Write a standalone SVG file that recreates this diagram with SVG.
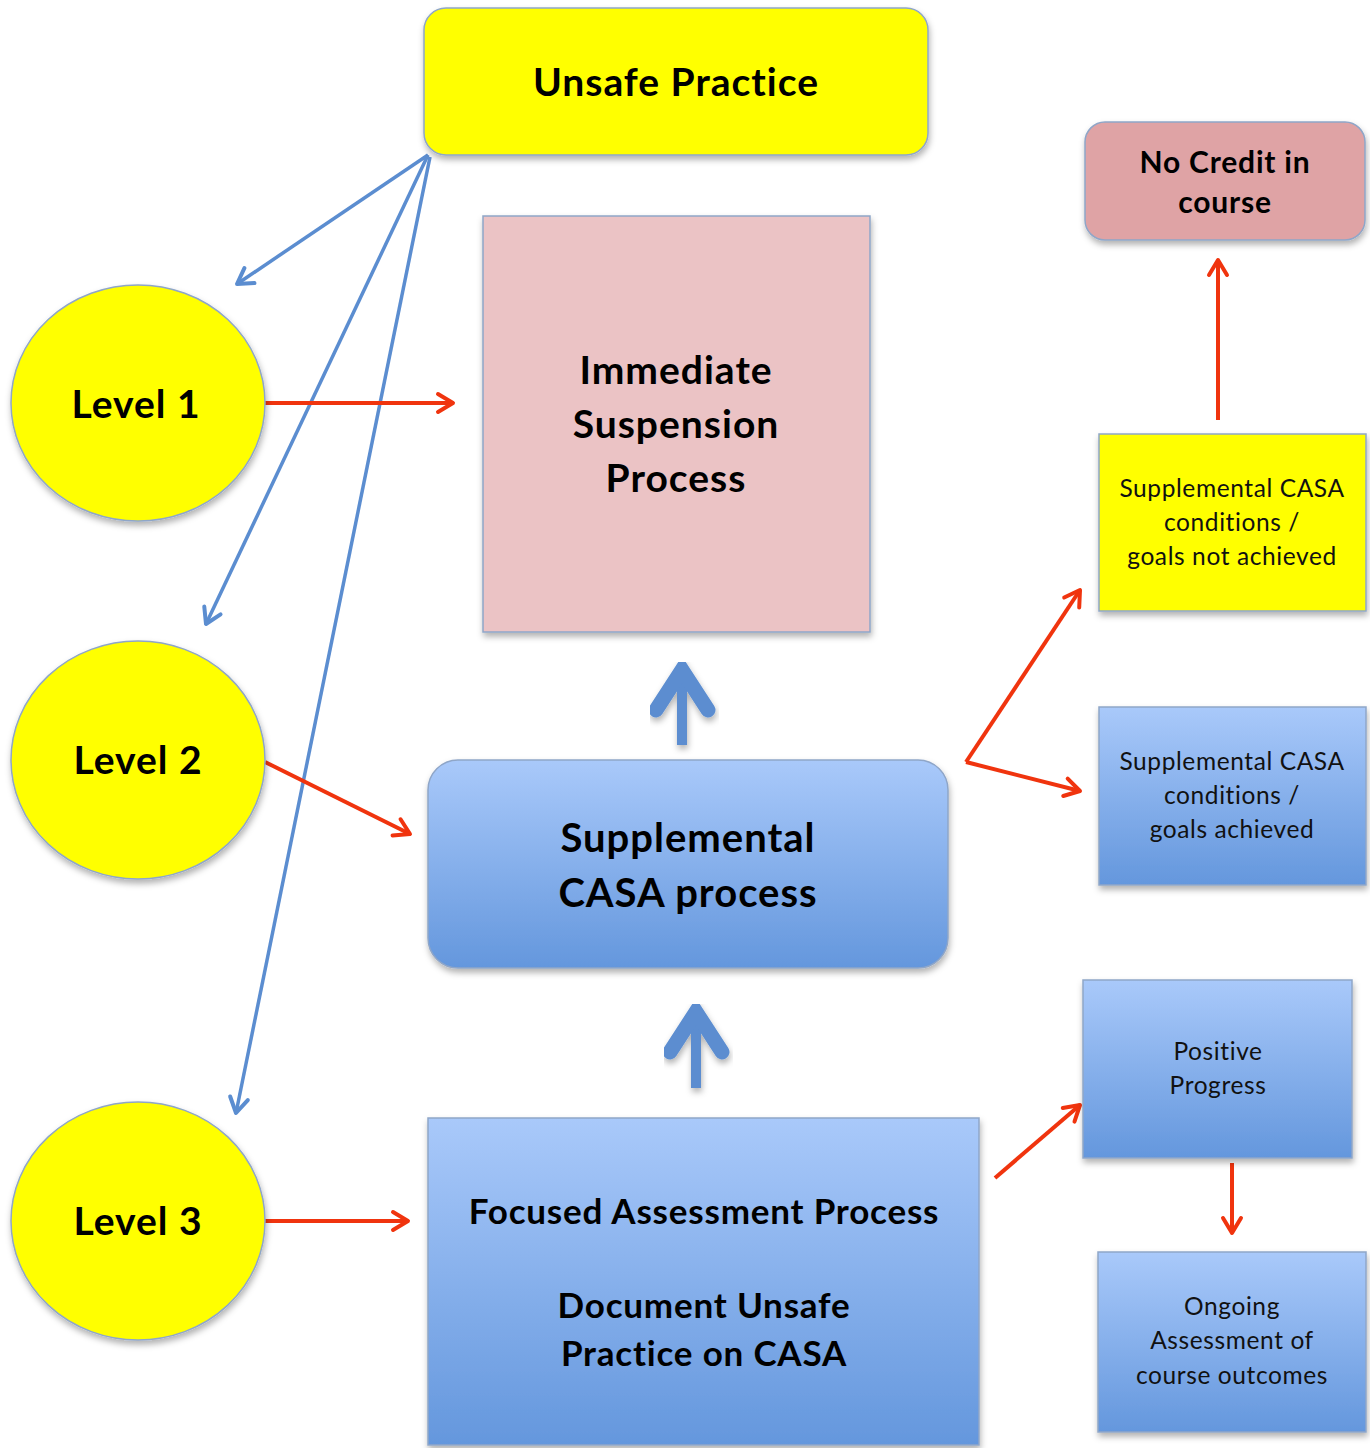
<svg xmlns="http://www.w3.org/2000/svg" width="1370" height="1448" viewBox="0 0 1370 1448">
<style>
.t{font-family:Lato,"Noto Sans","Liberation Sans",sans-serif;font-weight:bold;fill:#000;text-anchor:middle}
.s{font-family:Lato,"Noto Sans","Liberation Sans",sans-serif;font-size:24.5px;letter-spacing:0.6px;fill:#111;text-anchor:middle}
.box{stroke:#8FA6C8;stroke-width:1.5;filter:url(#sh)}
.red{stroke:#F0340E;stroke-width:4;fill:none;marker-end:url(#ra)}
.blue{stroke:#5B8DD0;stroke-width:3.5;fill:none;marker-end:url(#ba)}
.blk{stroke:#5B8DD0;fill:none}
.blkg{filter:url(#sh)}
</style>
<defs>
<linearGradient id="bg" x1="0" y1="0" x2="0" y2="1"><stop offset="0" stop-color="#A9C9FA"/><stop offset="1" stop-color="#6497DD"/></linearGradient>
<filter id="sh" x="-10%" y="-10%" width="130%" height="130%"><feDropShadow dx="1" dy="4" stdDeviation="3" flood-color="#000" flood-opacity="0.3"/></filter>
<marker id="ra" markerWidth="10" markerHeight="10" refX="7" refY="5" orient="auto" markerUnits="userSpaceOnUse" viewBox="0 0 10 10" style="overflow:visible"><path d="M-8,-4 L7,5 L-8,14" fill="none" stroke="#F0340E" stroke-width="4" stroke-linecap="round" stroke-linejoin="round"/></marker>
<marker id="ba" markerWidth="10" markerHeight="10" refX="7" refY="5" orient="auto" markerUnits="userSpaceOnUse" viewBox="0 0 10 10" style="overflow:visible"><path d="M-8,-4 L7,5 L-8,14" fill="none" stroke="#5B8DD0" stroke-width="4" stroke-linecap="round" stroke-linejoin="round"/></marker>
</defs>
<rect width="1370" height="1448" fill="#fff"/>

<g id="connectors">
<line class="blue" x1="428" y1="155" x2="237" y2="284"/>
<line class="blue" x1="428" y1="155" x2="206" y2="624"/>
<line class="blue" x1="430" y1="157" x2="236" y2="1113"/>
<line class="red" x1="265" y1="403" x2="453" y2="403"/>
<line class="red" x1="265" y1="762" x2="410" y2="834"/>
<line class="red" x1="265" y1="1221" x2="408" y2="1221"/>
<line class="red" x1="966" y1="762" x2="1080" y2="590"/>
<line class="red" x1="966" y1="762" x2="1080" y2="791"/>
<line class="red" x1="1218" y1="420" x2="1218" y2="260"/>
<line class="red" x1="995" y1="1178" x2="1080" y2="1105"/>
<line class="red" x1="1232" y1="1163" x2="1232" y2="1233"/>
<g id="block-arrow-1" class="blkg">
<line class="blk" x1="682" y1="745" x2="682" y2="672" stroke-width="10"/>
<polyline class="blk" points="656,710 682,670 708,710" stroke-width="15" stroke-linecap="round" stroke-linejoin="miter"/>
</g>
<g id="block-arrow-2" class="blkg">
<line class="blk" x1="696" y1="1088" x2="696" y2="1014" stroke-width="10"/>
<polyline class="blk" points="670,1052 696,1012 722,1052" stroke-width="15" stroke-linecap="round" stroke-linejoin="miter"/>
</g>
</g>

<g id="unsafe-practice">
<rect class="box" x="424" y="8" width="504" height="147" rx="22" fill="#FFFF00"/>
<text class="t" x="676" y="96" font-size="39" letter-spacing="1">Unsafe Practice</text>
</g>
<g id="level1">
<ellipse class="box" cx="138" cy="403" rx="127" ry="118" fill="#FFFF00"/>
<text class="t" x="136" y="418" font-size="39" letter-spacing="1">Level 1</text>
</g>
<g id="level2">
<ellipse class="box" cx="138" cy="760" rx="127" ry="119" fill="#FFFF00"/>
<text class="t" x="138" y="774" font-size="39" letter-spacing="1">Level 2</text>
</g>
<g id="level3">
<ellipse class="box" cx="138" cy="1221" rx="127" ry="119" fill="#FFFF00"/>
<text class="t" x="138" y="1235" font-size="39" letter-spacing="1">Level 3</text>
</g>
<g id="immediate-suspension">
<rect class="box" x="483" y="216" width="387" height="416" fill="#EBC3C5"/>
<text class="t" font-size="39" letter-spacing="1"><tspan x="676" y="384">Immediate</tspan><tspan x="676" y="438">Suspension</tspan><tspan x="676" y="492">Process</tspan></text>
</g>
<g id="supplemental-casa">
<rect class="box" x="428" y="760" width="520" height="208" rx="30" fill="url(#bg)"/>
<text class="t" font-size="40" letter-spacing="1"><tspan x="688" y="852">Supplemental</tspan><tspan x="688" y="907">CASA process</tspan></text>
</g>
<g id="focused-assessment">
<rect class="box" x="428" y="1118" width="551" height="327" fill="url(#bg)"/>
<text class="t" font-size="35" letter-spacing="0.8"><tspan x="704" y="1224">Focused Assessment Process</tspan><tspan x="704" y="1318">Document Unsafe</tspan><tspan x="704" y="1366">Practice on CASA</tspan></text>
</g>
<g id="no-credit">
<rect class="box" x="1085" y="122" width="280" height="118" rx="20" fill="#DFA3A5"/>
<text class="t" font-size="30" letter-spacing="0.8"><tspan x="1225" y="173">No Credit in</tspan><tspan x="1225" y="213">course</tspan></text>
</g>
<g id="goals-not-achieved">
<rect class="box" x="1099" y="434" width="267" height="177" fill="#FFFF00"/>
<text class="s"><tspan x="1232" y="497">Supplemental CASA</tspan><tspan x="1232" y="531">conditions /</tspan><tspan x="1232" y="565">goals not achieved</tspan></text>
</g>
<g id="goals-achieved">
<rect class="box" x="1099" y="707" width="267" height="178" fill="url(#bg)"/>
<text class="s"><tspan x="1232" y="770">Supplemental CASA</tspan><tspan x="1232" y="804">conditions /</tspan><tspan x="1232" y="838">goals achieved</tspan></text>
</g>
<g id="positive-progress">
<rect class="box" x="1083" y="980" width="269" height="178" fill="url(#bg)"/>
<text class="s"><tspan x="1218" y="1060">Positive</tspan><tspan x="1218" y="1094">Progress</tspan></text>
</g>
<g id="ongoing-assessment">
<rect class="box" x="1098" y="1252" width="268" height="180" fill="url(#bg)"/>
<text class="s"><tspan x="1232" y="1315">Ongoing</tspan><tspan x="1232" y="1349">Assessment of</tspan><tspan x="1232" y="1384">course outcomes</tspan></text>
</g>
</svg>
